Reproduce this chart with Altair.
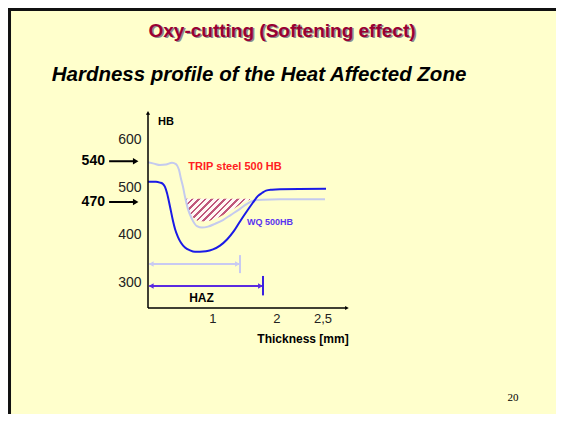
import altair as alt
import pandas as pd

# ---- values (thickness in mm, hardness in HB) ----
trip_mm = [0.0, 0.093, 0.185, 0.278, 0.370, 0.432, 0.478, 0.509, 0.540, 0.571, 0.617, 0.679,
           0.756, 0.833, 0.926, 1.034, 1.157, 1.281, 1.404, 1.528, 1.636, 1.759, 2.037, 2.731]
trip_hb = [553, 550, 547, 548, 552, 549, 537, 518, 501, 480, 454, 433,
           418, 415, 417, 423, 431, 442, 453, 465, 472, 474, 475, 475]

wq_mm = [0.0, 0.123, 0.185, 0.231, 0.262, 0.293, 0.340, 0.386, 0.417, 0.463, 0.509, 0.571,
         0.648, 0.725, 0.802, 0.895, 1.003, 1.111, 1.219, 1.327, 1.420, 1.528, 1.620, 1.698,
         1.759, 1.821, 1.914, 2.037, 2.747]
wq_hb = [512, 512, 510, 507, 501, 488, 459, 429, 412, 395, 383, 373,
         367, 364, 364, 365, 369, 377, 390, 408, 428, 450, 468, 482,
         488, 493, 495, 496, 497]

soft_mm = [0.571, 0.602, 0.648, 0.710, 0.787, 0.880, 0.988, 1.111, 1.235, 1.358, 1.481, 1.574]
soft_low = [475, 460, 446, 435, 429, 428, 431, 438, 448, 458, 469, 474]
soft_top = 476

y_ticks = [300, 400, 500, 600]
x_tick_pos = [1.0, 1.99, 2.70]
x_tick_labels = ["1", "2", "2,5"]

level_pos = [555, 469]
level_labels = ["540", "470"]

haz_trip_end = 1.42
haz_wq_end = 1.775
haz_trip_y = 338
haz_wq_y = 292

BG = "#FFFFCC"
FONT = "Liberation Sans"

xs = alt.Scale(domain=[0, 3.148], nice=False, zero=False)
ys = alt.Scale(domain=[245.4, 663.1], nice=False, zero=False)
yaxis = alt.Axis(values=y_ticks, domain=False, ticks=False, grid=False, title=None,
                 labelFontSize=14, labelFont=FONT, labelColor="#222222", labelPadding=7)


def X(f):
    return alt.X(f, type="quantitative", scale=xs, axis=None)


def Y(f):
    return alt.Y(f, type="quantitative", scale=ys, axis=yaxis)


def seg(x, y, x2, y2, color, width=2):
    df = pd.DataFrame({"x": [x], "y": [y], "x2": [x2], "y2": [y2]})
    return alt.Chart(df).mark_rule(color=color, strokeWidth=width).encode(
        x=X("x"), y=Y("y"), x2="x2", y2="y2")


def head(x, y, shape, color, size=40):
    df = pd.DataFrame({"x": [x], "y": [y]})
    return alt.Chart(df).mark_point(shape=shape, filled=True, color=color, size=size,
                                    opacity=1, strokeWidth=0).encode(x=X("x"), y=Y("y"))


def label(text, x, y, size, color="#000000", weight="normal", style="normal",
          align="center", font=FONT, dx=0, dy=0):
    df = pd.DataFrame({"x": [x], "y": [y], "t": [text]})
    return alt.Chart(df).mark_text(fontSize=size, color=color, fontWeight=weight,
                                   fontStyle=style, align=align, baseline="middle",
                                   font=font, dx=dx, dy=dy).encode(
        x=X("x"), y=Y("y"), text="t:N")


# hatched (softened) zone
period = 0.089
dark, light = "#C0587C", "#FFF8F4"
stops = []
i = 0
while i * period < 1:
    s = i * period
    m = min(s + 0.42 * period, 1)
    e = min(s + period, 1)
    stops += [alt.GradientStop(color=dark, offset=s), alt.GradientStop(color=dark, offset=m),
              alt.GradientStop(color=light, offset=m), alt.GradientStop(color=light, offset=e)]
    i += 1
hatch_df = pd.DataFrame({"mm": soft_mm, "low": soft_low, "top": [soft_top] * len(soft_mm)})
hatch = alt.Chart(hatch_df).mark_area(
    fill=alt.Gradient(gradient="linear", stops=stops, x1=0, y1=0, x2=1, y2=0.35),
    interpolate="monotone").encode(x=X("mm"), y=Y("low"), y2="top")

trip_df = pd.DataFrame({"mm": trip_mm, "hb": trip_hb})
trip = alt.Chart(trip_df).mark_line(color="#C4CAEE", strokeWidth=2, interpolate="monotone").encode(
    x=X("mm"), y=Y("hb"))
wq_df = pd.DataFrame({"mm": wq_mm, "hb": wq_hb})
wq = alt.Chart(wq_df).mark_line(color="#1A1AE6", strokeWidth=2, interpolate="monotone").encode(
    x=X("mm"), y=Y("hb"))

layers = [hatch, trip, wq]

# slide frame (left and top edges)
layers += [seg(-2.137, 21.7, -2.137, 878.3, "#111111", 3),
           seg(-2.16, 875.1, 6.296, 875.1, "#111111", 3)]

# axes drawn as arrows
layers += [seg(0, 245.4, 0, 656, "#000000", 1.5), head(0, 657, "triangle-up", "#000000", 18),
           seg(0, 245.4, 3.06, 245.4, "#000000", 1.5), head(3.07, 245.4, "triangle-right", "#000000", 18)]

# x tick labels
for p, t in zip(x_tick_pos, x_tick_labels):
    layers.append(label(t, p, 223, 13, "#222222"))

# level arrows 540 / 470
for v, t in zip(level_pos, level_labels):
    layers += [seg(-0.60, v, -0.20, v, "#000000", 2), head(-0.19, v, "triangle-right", "#000000", 40),
               label(t, -0.664, v, 14, "#000000", "bold", align="right")]

# HAZ double arrows
layers += [seg(0.02, haz_trip_y, haz_trip_end, haz_trip_y, "#C8CAF2", 2),
           head(0.05, haz_trip_y, "triangle-left", "#C8CAF2", 30),
           head(haz_trip_end - 0.04, haz_trip_y, "triangle-right", "#C8CAF2", 30),
           seg(haz_trip_end, 319, haz_trip_end, 357, "#C8CAF2", 2),
           seg(0.02, haz_wq_y, haz_wq_end, haz_wq_y, "#5A2BE0", 2),
           head(0.05, haz_wq_y, "triangle-left", "#5A2BE0", 30),
           head(haz_wq_end - 0.04, haz_wq_y, "triangle-right", "#5A2BE0", 30),
           seg(haz_wq_end, 272, haz_wq_end, 313, "#3A20E0", 2)]

# texts
layers += [
    label("HB", 0.278, 638, 11, "#000000", "bold"),
    label("TRIP steel 500 HB", 1.343, 542, 11, "#FF2020", "bold"),
    label("WQ 500HB", 1.883, 427, 9, "#5A35F0", "bold"),
    label("HAZ", 0.826, 266, 12, "#000000", "bold"),
    label("Thickness [mm]", 2.392, 180, 12, "#000000", "bold"),
    label("Oxy-cutting (Softening effect)", 2.068, 830, 19, "#8C8C8C", "bold", dx=1.5, dy=1.5),
    label("Oxy-cutting (Softening effect)", 2.068, 830, 19, "#990033", "bold"),
    label("Hardness profile of the Heat Affected Zone", 1.713, 737, 20.5, "#000000", "bold", "italic"),
    label("20", 5.633, 55, 11, "#000000", font="Liberation Serif"),
]

chart = alt.layer(*layers).properties(
    width=204, height=198,
    padding={"left": 140, "top": 102, "right": 204, "bottom": 106},
    autosize=alt.AutoSizeParams(type="none"),
    background=BG,
).configure_view(stroke=None)

chart.save("out.html", embed_options={"renderer": "svg", "actions": False})
